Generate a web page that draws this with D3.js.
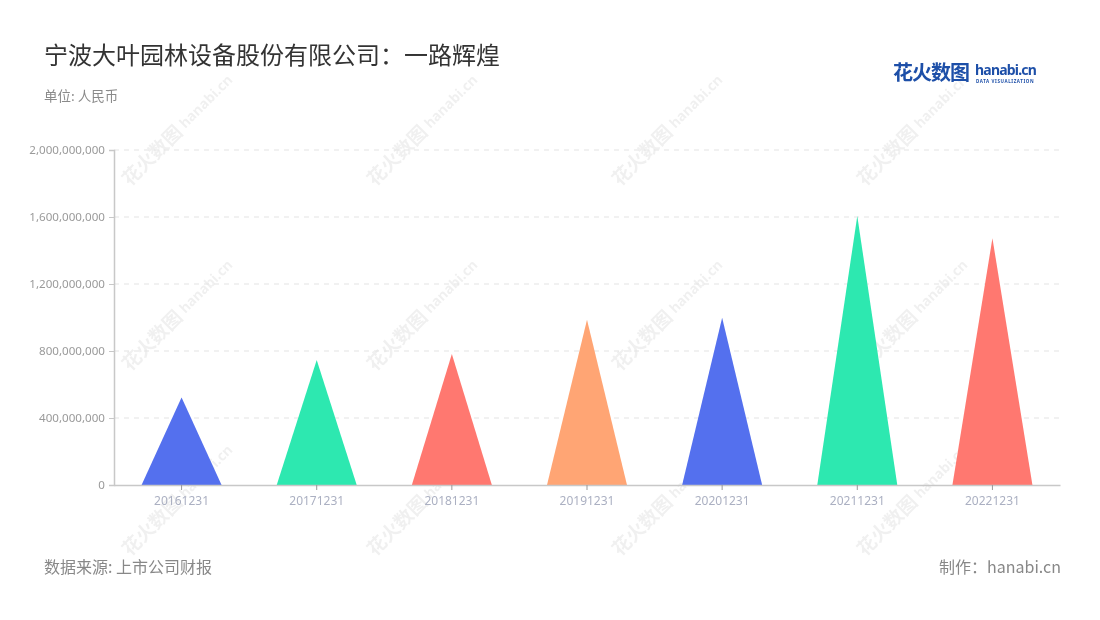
<!DOCTYPE html>
<html>
<head>
<meta charset="utf-8">
<script src="https://cdn.jsdelivr.net/npm/d3@7"></script>
<style>
  html, body { margin: 0; padding: 0; background: #fff; }
  svg { display: block; font-family: "Noto Sans CJK SC", "Noto Sans", sans-serif; }
</style>
</head>
<body>
<svg id="chart" width="1100" height="620"></svg>
<script>
const categories = ["20161231", "20171231", "20181231", "20191231", "20201231", "20211231", "20221231"];
const values = [523000000, 746000000, 782000000, 987000000, 999000000, 1606000000, 1473000000];
const colors = ["#5470ee", "#2de8b0", "#ff7870", "#ffa574", "#5470ee", "#2de8b0", "#ff7870"];
const yTicks = [0, 400000000, 800000000, 1200000000, 1600000000, 2000000000];
const titleText = "宁波大叶园林设备股份有限公司：一路辉煌";
const unitText = "单位: 人民币";
const sourceText = "数据来源: 上市公司财报";
const creditText = "制作：hanabi.cn";

const svg = d3.select("#chart");
const margin = { left: 114, right: 1060, top: 150, bottom: 485 };

// watermarks
const wm = svg.append("g").attr("opacity", 0.06);
[130, 375, 620, 865].forEach(x0 => {
  [187, 372, 557].forEach(y0 => {
    const g = wm.append("g").attr("transform", `translate(${x0},${y0}) rotate(-45)`);
    g.append("text").attr("x", 0).attr("y", 0).attr("font-size", 19).attr("font-weight", 700)
      .attr("fill", "#000").text("花火数图");
    g.append("text").attr("x", 80).attr("y", -2).attr("font-size", 14).attr("font-weight", 700)
      .attr("fill", "#000").attr("font-family", "'Noto Sans', sans-serif").text("hanabi.cn");
  });
});

const x = d3.scaleBand().domain(categories).range([margin.left, margin.right]).padding(0);
const y = d3.scaleLinear().domain([0, 2000000000]).range([margin.bottom, margin.top]);

// grid
svg.append("g").selectAll("line").data(yTicks.filter(d => d > 0)).join("line")
  .attr("x1", margin.left).attr("x2", margin.right)
  .attr("y1", d => y(d)).attr("y2", d => y(d))
  .attr("stroke", "#e3e3e3").attr("stroke-width", 1.2).attr("stroke-dasharray", "5,5");

// triangles
const halfW = x.bandwidth() * 0.296;
svg.append("g").selectAll("path").data(categories).join("path")
  .attr("d", (c, i) => {
    const cx = x(c) + x.bandwidth() / 2;
    return `M${cx - halfW},${y(0)} L${cx},${y(values[i])} L${cx + halfW},${y(0)} Z`;
  })
  .attr("fill", (c, i) => colors[i]);

// y axis
const yAxis = svg.append("g").attr("transform", `translate(${margin.left},0)`)
  .call(d3.axisLeft(y).tickValues(yTicks).tickSize(5).tickPadding(4).tickFormat(d3.format(",")));
yAxis.select(".domain").attr("stroke", "#c8c8c8").attr("stroke-width", 1.5);
yAxis.selectAll(".tick line").attr("stroke", "#c8c8c8");
yAxis.selectAll(".tick text").attr("fill", "#9a9a9a").attr("font-size", 11.6)
  .attr("font-family", "'Noto Sans', sans-serif");

// x axis
const xAxis = svg.append("g").attr("transform", `translate(0,${margin.bottom})`)
  .call(d3.axisBottom(x).tickSize(5).tickSizeOuter(0).tickPadding(6));
xAxis.select(".domain").attr("stroke", "#c8c8c8").attr("stroke-width", 1.5);
xAxis.selectAll(".tick line").attr("stroke", "#999");
xAxis.selectAll(".tick text").attr("fill", "#abb0c2").attr("font-size", 12)
  .attr("font-family", "'Noto Sans', sans-serif");

// title & texts
svg.append("text").attr("x", 44).attr("y", 64).attr("font-size", 24).attr("fill", "#333")
  .text(titleText);
svg.append("text").attr("x", 44).attr("y", 101).attr("font-size", 13.5).attr("fill", "#8a8a8a")
  .text(unitText);
svg.append("text").attr("x", 44).attr("y", 573).attr("font-size", 16).attr("fill", "#888")
  .text(sourceText);
svg.append("text").attr("x", 1061).attr("y", 573).attr("font-size", 16).attr("fill", "#888")
  .attr("text-anchor", "end").text(creditText);

// logo
const logo = svg.append("g");
logo.append("text").attr("x", 893).attr("y", 80).attr("font-size", 20).attr("font-weight", 700)
  .attr("fill", "#1d4fa8").attr("letter-spacing", -1).text("花火数图");
logo.append("text").attr("x", 975).attr("y", 75).attr("font-size", 14).attr("font-weight", 700)
  .attr("fill", "#1d4fa8").attr("font-family", "'Noto Sans', sans-serif").attr("letter-spacing", -0.8).text("hanabi.cn");
logo.append("text").attr("x", 976).attr("y", 83).attr("font-size", 4.5).attr("font-weight", 700)
  .attr("fill", "#1d4fa8").attr("font-family", "'Noto Sans', sans-serif").attr("letter-spacing", 0.6).text("DATA VISUALIZATION");
</script>
</body>
</html>
